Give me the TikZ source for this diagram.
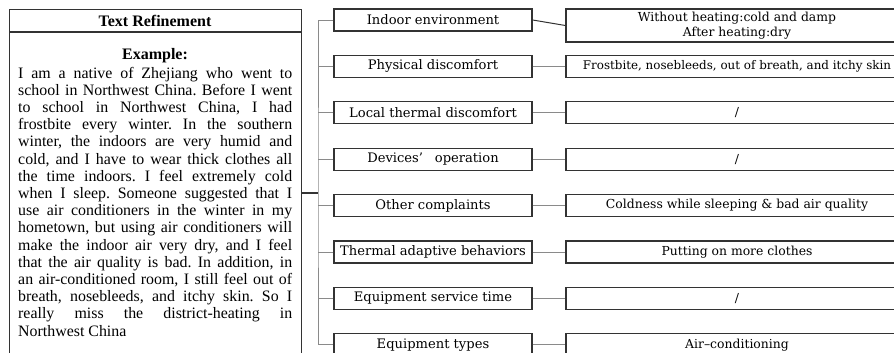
\documentclass[tikz,border=0pt]{standalone}
\usepackage{fontspec}
\newfontfamily\timesfont[Ligatures=TeX]{Liberation Serif}
\newfontfamily\boxfont[Ligatures=TeX]{DejaVu Serif}
\usepackage{tikz}
\usetikzlibrary{calc}
\definecolor{boxline}{HTML}{333333}
\definecolor{branchline}{HTML}{8A8A8A}

\begin{document}
\begin{tikzpicture}[x=1pt,y=-1pt,
		midbox/.style={draw=boxline,line width=1.2pt,minimum width=198pt,minimum height=22pt,inner sep=0pt,font=\boxfont\fontsize{13.1}{15}\selectfont},
		sidebox/.style={draw=boxline,line width=1.2pt,minimum width=342pt,minimum height=22pt,inner sep=0pt,align=center,font=\boxfont\fontsize{12.4}{15.5}\selectfont},
		branch/.style={draw=branchline,line width=0.9pt},
		link/.style={draw=boxline,line width=1pt}]
			\useasboundingbox (0,0) rectangle (894,353);
			\clip (0,0) rectangle (894,353);
			
			%text panel
			\node[draw=boxline,line width=1.2pt,anchor=north west,minimum width=292pt,minimum height=400pt] (panel) at (9,9) {};
			\draw[link,line width=1.2pt] ($(panel.north west)+(0,23)$) -- ($(panel.north east)+(0,23)$);
			\node[anchor=base,font=\timesfont\bfseries\fontsize{16}{17}\selectfont] (title) at (155,27) {Text Refinement};
			\node[anchor=base,font=\timesfont\bfseries\fontsize{16}{17}\selectfont] (exmp) at (155,59.5) {Example:};
			\node[anchor=base west,text width=274pt,align=justify,inner sep=0pt,font=\timesfont\fontsize{15.9}{17.2}\selectfont] (story) at (18,78) {\frenchspacing\hyphenpenalty=10000\exhyphenpenalty=10000
				I am a native of Zhejiang who went to\linebreak
				school in Northwest China. Before I went\linebreak
				to school in Northwest China, I had\linebreak
				frostbite every winter. In the southern\linebreak
				winter, the indoors are very humid and\linebreak
				cold, and I have to wear thick clothes all\linebreak
				the time indoors. I feel extremely cold\linebreak
				when I sleep. Someone suggested that I\linebreak
				use air conditioners in the winter in my\linebreak
				hometown, but using air conditioners will\linebreak
				make the indoor air very dry, and I feel\linebreak
				that the air quality is bad. In addition, in\linebreak
				an air-conditioned room, I still feel out of\linebreak
				breath, nosebleeds, and itchy skin. So I\linebreak
				really miss the district-heating in\linebreak
				Northwest China};
			
			%middle column
			\node[midbox] (m1) at (433,20) {Indoor environment};
			\node[midbox] (m2) at ($(m1)+(0,46.4)$) {Physical discomfort};
			\node[midbox] (m3) at ($(m2)+(0,46.4)$) {Local thermal discomfort};
			\node[midbox] (m4) at ($(m3)+(0,46.4)$) {Devices’\hspace{0.9em}operation};
			\node[midbox] (m5) at ($(m4)+(0,46.4)$) {Other complaints};
			\node[midbox] (m6) at ($(m5)+(0,46.4)$) {Thermal adaptive behaviors};
			\node[midbox] (m7) at ($(m6)+(0,46.4)$) {Equipment service time};
			\node[midbox] (m8) at ($(m7)+(0,46.4)$) {Equipment types};
			
			%right column
			\node[sidebox,minimum height=33pt] (r1) at (737,25.5) {Without heating:cold and damp\\After heating:dry};
			\node[sidebox,font=\boxfont\fontsize{11.9}{15}\selectfont] (r2) at ($(m2)+(304,0)$) {Frostbite, nosebleeds, out of breath, and itchy skin};
			\node[sidebox] (r3) at ($(m3)+(304,0)$) {/};
			\node[sidebox] (r4) at ($(m4)+(304,0)$) {/};
			\node[sidebox] (r5) at ($(m5)+(304,0)$) {Coldness while sleeping \& bad air quality};
			\node[sidebox] (r6) at ($(m6)+(304,0)$) {Putting on more clothes};
			\node[sidebox] (r7) at ($(m7)+(304,0)$) {/};
			\node[sidebox] (r8) at ($(m8)+(304,0)$) {Air--conditioning};
			
			%tree lines
			\coordinate (hub) at (318,193);
			\draw[link,line width=1.2pt] (panel.east |- hub) -- (hub);
			\draw[branch] (m1.west) -| (hub) |- (m8.west);
			\draw[branch] (m2.west) -- (m2.west -| hub);
			\draw[branch] (m3.west) -- (m3.west -| hub);
			\draw[branch] (m4.west) -- (m4.west -| hub);
			\draw[branch] (m5.west) -- (m5.west -| hub);
			\draw[branch] (m6.west) -- (m6.west -| hub);
			\draw[branch] (m7.west) -- (m7.west -| hub);
			
			\draw[link] (m1.east) -- (r1.west);
			\draw[branch] (m2.east) -- (r2.west);
			\draw[branch] (m3.east) -- (r3.west);
			\draw[branch] (m4.east) -- (r4.west);
			\draw[branch] (m5.east) -- (r5.west);
			\draw[branch] (m6.east) -- (r6.west);
			\draw[branch] (m7.east) -- (r7.west);
			\draw[branch] (m8.east) -- (r8.west);
		\end{tikzpicture}
\end{document}
